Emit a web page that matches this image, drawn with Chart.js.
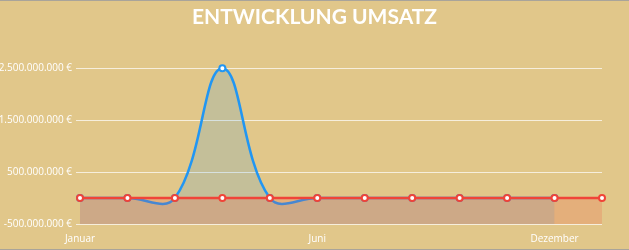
<!DOCTYPE html>
<html>
<head>
<meta charset="utf-8">
<script src="https://cdn.jsdelivr.net/npm/chart.js@4"></script>
<style>
  html, body { margin: 0; padding: 0; background: #e1c78a; }
  #wrap {
    width: 629px; height: 248px;
    border-top: 1px solid #a9a49a; border-bottom: 1px solid #a9a49a;
  }
</style>
</head>
<body>
<div id="wrap"><canvas id="umsatzChart" width="629" height="248"></canvas></div>
<script>
// Monate (nur einzelne beschriftet, wie im Original)
const monate = ["Januar", "", "", "", "", "Juni", "", "", "", "", "Dezember", ""];

// Umsatz in Euro
const umsatzIst = [0, 0, 0, 2500000000, 0, 0, 0, 0, 0, 0, 0];
const umsatzPlan = [0, 0, 0, 0, 0, 0, 0, 0, 0, 0, 0, 0];

const yMin = -500000000;
const yMax = 2500000000;
const yStep = 1000000000;

function euro(v) {
  var s = Math.abs(v).toFixed(0).replace(/\B(?=(\d{3})+(?!\d))/g, ".");
  return (v < 0 ? "-" : "") + s + " €";
}

const tickFont = { family: "Open Sans", size: 10 };

const config = {
  type: "line",
  data: {
    labels: monate,
    datasets: [
      {
        label: "Plan",
        data: umsatzPlan,
        borderColor: "#f04438",
        backgroundColor: "rgba(244, 67, 54, 0.18)",
        borderWidth: 2.5,
        pointRadius: 3,
        pointBorderWidth: 2,
        pointBackgroundColor: "#ffffff",
        pointBorderColor: "#f04438",
        fill: "start",
        tension: 0.4,
        clip: false,
        order: 1,
      },
      {
        label: "Ist",
        data: umsatzIst,
        borderColor: "#2196f3",
        backgroundColor: "rgba(33, 150, 243, 0.15)",
        borderWidth: 2.5,
        pointRadius: 3,
        pointBorderWidth: 2,
        pointBackgroundColor: "#ffffff",
        pointBorderColor: "#2196f3",
        fill: "start",
        tension: 0.4,
        clip: false,
        order: 2,
      },
    ],
  },
  options: {
    responsive: false,
    animation: false,
    layout: { padding: 0 },
    plugins: {
      legend: { display: false },
      tooltip: { enabled: false },
      title: {
        display: true,
        text: "ENTWICKLUNG UMSATZ",
        color: "#ffffff",
        font: { family: "Lato", size: 21, weight: "bold" },
        padding: { top: 4, bottom: 38 },
      },
    },
    scales: {
      x: {
        grid: { display: false, drawTicks: false },
        border: { display: false },
        ticks: {
          color: "#ffffff",
          font: tickFont,
          padding: 9,
          maxRotation: 0,
          autoSkip: false,
        },
        afterFit: function (scale) {
          scale.height = 25;
        },
      },
      y: {
        min: yMin,
        max: yMax,
        border: { display: false },
        grid: {
          color: "rgba(255, 255, 255, 0.7)",
          lineWidth: 1,
          tickLength: 4,
        },
        ticks: {
          stepSize: yStep,
          color: "#ffffff",
          font: tickFont,
          padding: 4,
          callback: function (value) {
            return euro(value);
          },
        },
        afterFit: function (scale) {
          scale.width = 80;
        },
      },
      // leere Achse rechts, nur als Abstand
      yRechts: {
        position: "right",
        min: yMin,
        max: yMax,
        border: { display: false },
        grid: { drawOnChartArea: false, drawTicks: false },
        ticks: { display: false },
        afterFit: function (scale) {
          scale.width = 27;
        },
      },
    },
  },
};

new Chart(document.getElementById("umsatzChart"), config);
</script>
</body>
</html>
